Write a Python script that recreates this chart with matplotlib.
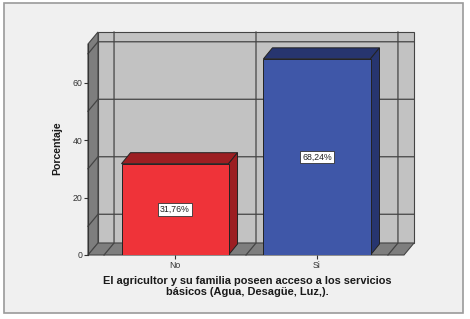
import matplotlib
matplotlib.use("Agg")
import matplotlib.pyplot as plt
from matplotlib.patches import Polygon, Rectangle

# data
categories = ["No", "Si"]
porcentajes = [31.76, 68.24]
etiquetas = ["31,76%", "68,24%"]
yticks = [0, 20, 40, 60]

xlabel = "El agricultor y su familia poseen acceso a los servicios\nbásicos (Agua, Desagüe, Luz,)."
ylabel = "Porcentaje"

front_colors = ["#ef3339", "#3f57a8"]
dark_colors = ["#9c1e22", "#27356f"]

plt.rcParams["font.family"] = ["Liberation Sans", "DejaVu Sans"]

W, H = 470, 319
fig = plt.figure(figsize=(W / 100, H / 100), dpi=100, facecolor="white")

# outer frame (behind everything)
fig.patches.append(Rectangle((4 / W, 1 - 313 / H), (463 - 4) / W, (313 - 3) / H,
                             transform=fig.transFigure, facecolor="#f0f0f0",
                             edgecolor="#9a9a9a", lw=1.2, zorder=-10))

# 3d box geometry (data units)
XL, XR = -0.613, 1.613
YT = 73.4
DX, DY = 10 / 142, 12 / 2.875      # wall depth
BDX, BDY = 9 / 142, 11 / 2.875     # bar depth
bar_w = 0.754

ax = fig.add_axes([88 / W, 1 - 255 / H, (414 - 88) / W, (255 - 32) / H])
ax.set_xlim(XL, XR + DX)
ax.set_ylim(0, YT + DY)
ax.patch.set_visible(False)
for s in ["top", "right", "bottom"]:
    ax.spines[s].set_visible(False)
ax.spines["left"].set_bounds(0, YT)
ax.spines["left"].set_color("#333333")
ax.spines["left"].set_linewidth(0.8)

gc = "#444444"
# back wall
ax.add_patch(Rectangle((XL + DX, DY), XR - XL, YT, facecolor="#c2c2c2",
                       edgecolor=gc, lw=0.8, zorder=1, clip_on=False))
# left wall
ax.add_patch(Polygon([(XL, 0), (XL + DX, DY), (XL + DX, YT + DY), (XL, YT)],
                     closed=True, facecolor="#7e7e7e", edgecolor=gc, lw=0.8,
                     zorder=1, clip_on=False))
# floor
ax.add_patch(Polygon([(XL, 0), (XR, 0), (XR + DX, DY), (XL + DX, DY)],
                     closed=True, facecolor="#7e7e7e", edgecolor=gc, lw=0.8,
                     zorder=1, clip_on=False))

# grid lines on the walls
for g in [10, 30, 50, 70]:
    ax.plot([XL, XL + DX, XR + DX], [g, g + DY, g + DY], color=gc, lw=0.9,
            zorder=2, clip_on=False)
for g in [-0.5, 0.5, 1.5]:
    ax.plot([g, g + DX, g + DX], [0, DY, YT + DY], color=gc, lw=0.9,
            zorder=2, clip_on=False)

# bars
xs = list(range(len(categories)))
ax.bar(xs, porcentajes, width=bar_w, color=front_colors, edgecolor="#222222",
       lw=0.7, zorder=4)
for x, v, dc in zip(xs, porcentajes, dark_colors):
    l, r = x - bar_w / 2, x + bar_w / 2
    ax.add_patch(Polygon([(l, v), (r, v), (r + BDX, v + BDY), (l + BDX, v + BDY)],
                         closed=True, facecolor=dc, edgecolor="#222222", lw=0.7, zorder=3))
    ax.add_patch(Polygon([(r, 0), (r + BDX, BDY), (r + BDX, v + BDY), (r, v)],
                         closed=True, facecolor=dc, edgecolor="#222222", lw=0.7, zorder=3))

for x, v, t in zip(xs, porcentajes, etiquetas):
    ax.text(x, v / 2, t, ha="center", va="center", fontsize=6.3, color="#222222",
            zorder=6, bbox=dict(boxstyle="square,pad=0.2", facecolor="white",
                                edgecolor="#333333", lw=0.6))

ax.set_yticks(yticks)
ax.set_xticks(xs)
ax.set_xticklabels(categories)
ax.tick_params(axis="both", labelsize=6.3, colors="#333333", length=3, width=0.8, pad=1)

ax.set_xlabel(xlabel, fontsize=7.9, fontweight="bold", color="#1a1a1a",
              linespacing=1.1)
ax.xaxis.set_label_coords((247 - 88) / 326, -21 / 223)
ax.set_ylabel(ylabel, fontsize=7.6, fontweight="bold", color="#1a1a1a")
ax.yaxis.set_label_coords((62 - 88) / 326, 0.48)

fig.savefig("out.png", dpi=100, facecolor=fig.get_facecolor())
